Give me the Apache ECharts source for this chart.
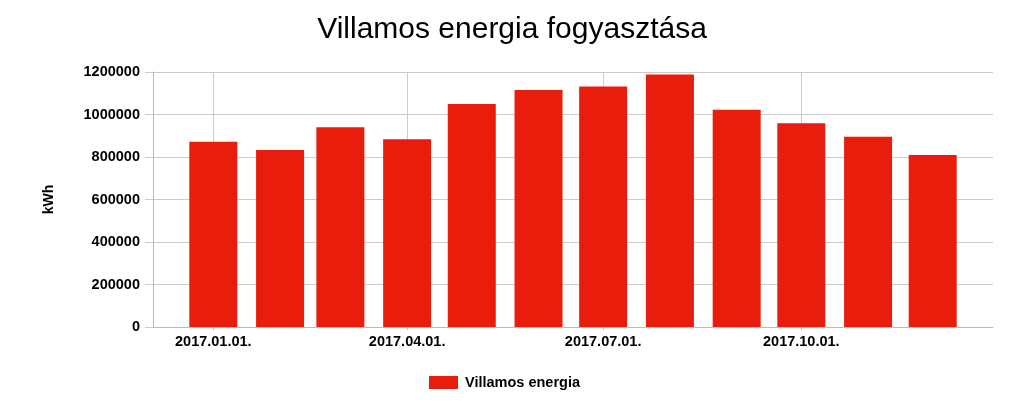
<!DOCTYPE html>
<html>
<head>
<meta charset="utf-8">
<script src="https://cdn.jsdelivr.net/npm/echarts@6/dist/echarts.min.js"></script>
<style>html,body{margin:0;padding:0;background:#fff}#c{width:1024px;height:410px}</style>
</head>
<body>
<div id="c"></div>
<script>
const title = 'Villamos energia fogyasztása';
const seriesName = 'Villamos energia';
const yName = 'kWh';
const months = ['2017-01-01','2017-02-01','2017-03-01','2017-04-01','2017-05-01','2017-06-01','2017-07-01','2017-08-01','2017-09-01','2017-10-01','2017-11-01','2017-12-01'];
const values = [872000, 833000, 940000, 884000, 1050000, 1115000, 1132000, 1188000, 1022000, 959000, 895000, 810000];
const xTickDates = ['2017-01-01','2017-04-01','2017-07-01','2017-10-01'];

const FONT = '"Liberation Sans", Arial, sans-serif';
const toTs = s => { const p = s.split('-').map(Number); return new Date(p[0], p[1]-1, p[2]).getTime(); };
const pad = n => (n < 10 ? '0' : '') + n;

const chart = echarts.init(document.getElementById('c'), null, {renderer: 'canvas'});
chart.setOption({
  animation: false,
  backgroundColor: '#ffffff',
  title: {
    text: title, left: 'center', top: 10,
    textStyle: {fontFamily: FONT, fontSize: 30, fontWeight: 'normal', color: '#000'}
  },
  legend: {
    bottom: 15, left: 424,
    icon: 'rect',
    itemWidth: 29, itemHeight: 13, itemGap: 10,
    textStyle: {fontFamily: FONT, fontSize: 14.5, fontWeight: 'bold', color: '#000', padding: [0, 0, 0, 2]},
    data: [seriesName]
  },
  grid: {left: 153, right: 31, top: 72, bottom: 83, containLabel: false},
  xAxis: {
    type: 'value',
    min: toTs('2016-12-04'),
    max: toTs('2017-12-29'),
    axisLine: {show: true, onZero: false, lineStyle: {color: '#bbbbbb'}},
    axisTick: {show: true, length: 3, lineStyle: {color: '#bbbbbb'}, customValues: xTickDates.map(toTs)},
    splitLine: {show: true, lineStyle: {color: '#cccccc', width: 1}},
    axisLabel: {
      customValues: xTickDates.map(toTs),
      margin: 7,
      fontFamily: FONT, fontSize: 14.5, fontWeight: 'bold', color: '#000',
      formatter: v => { const d = new Date(v); return d.getFullYear() + '.' + pad(d.getMonth()+1) + '.' + pad(d.getDate()) + '.'; }
    }
  },
  yAxis: {
    type: 'value', min: 0, max: 1200000, interval: 200000,
    name: yName, nameLocation: 'middle', nameRotate: 90, nameGap: 97,
    nameTextStyle: {fontFamily: FONT, fontSize: 14, fontWeight: 'bold', color: '#000'},
    axisLine: {show: true, lineStyle: {color: '#bbbbbb'}},
    axisTick: {show: true, length: 8, lineStyle: {color: '#cccccc'}},
    splitLine: {show: true, lineStyle: {color: '#cccccc', width: 1}},
    axisLabel: {margin: 13, fontFamily: FONT, fontSize: 14.5, fontWeight: 'bold', color: '#000', formatter: v => String(v)}
  },
  series: [{
    name: seriesName, type: 'bar', barWidth: 48,
    itemStyle: {color: '#e81d0c'},
    data: months.map((m, i) => [toTs(m), values[i]])
  }]
});
</script>
</body>
</html>
